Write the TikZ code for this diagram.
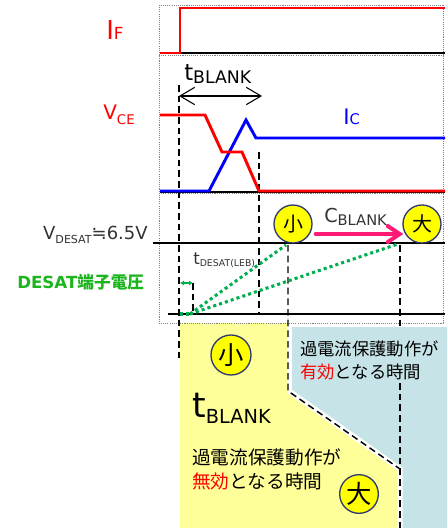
\documentclass[tikz,border=0pt]{standalone}
\usepackage{fontspec}
\setmainfont{DejaVu Sans}
\newfontfamily\jp{Noto Sans CJK JP}
\usetikzlibrary{arrows.meta}
\definecolor{sigred}{HTML}{FF0000}
\definecolor{sigblue}{HTML}{0000FF}
\definecolor{desatgreen}{HTML}{00B050}
\definecolor{labelgreen}{HTML}{1DB51D}
\definecolor{cblankpink}{HTML}{FF1A75}
\definecolor{markyellow}{HTML}{FFFF00}
\definecolor{marknavy}{HTML}{2E3A6E}
\definecolor{zoneyellow}{HTML}{FFFF99}
\definecolor{zoneblue}{HTML}{C6E4E8}
\definecolor{darktext}{HTML}{333333}
\newcommand{\fsz}[2]{\fontsize{#1}{#2}\selectfont}

\begin{document}
\begin{tikzpicture}[
    x=0.75pt, y=-0.75pt,
    frameline/.style={gray, line width=0.7pt, dash pattern=on 0.8pt off 0.8pt},
    axisline/.style={black, line width=2.2pt},
    sigline/.style={line width=2.2pt, line join=miter},
    guideline/.style={black, line width=1.1pt, dash pattern=on 5pt off 3pt},
    greendots/.style={desatgreen, line width=2.3pt, dash pattern=on 2.3pt off 2.3pt},
    ratemark/.style={circle, draw=marknavy, fill=markyellow, line width=1pt, inner sep=0pt},
    lbl/.style={inner sep=0pt, anchor=base west},
    jptext/.style={inner sep=0pt, anchor=base west, align=left, font=\jp\fsz{#1}{1.27\dimexpr#1\relax}}
  ]
    \useasboundingbox (0,0) rectangle (447,528);

    % zones (below)
    \fill[zoneyellow] (180,323) -- (287,323) -- (287,390) -- (398,469) -- (398,528) -- (180,528) -- cycle;
    \fill[zoneblue] (292,327) -- (447,327) -- (447,528) -- (401,528) -- (401,468) -- (292,391) -- cycle;
    \draw[white, line width=4pt] (289,391) -- (400,469) -- (400,528);

    % dotted frame
    \draw[frameline] (159,5) rectangle (443,323);
    \draw[frameline] (159,55) -- (443,55);
    \draw[frameline] (159,193) -- (443,193);

    % guides
    \draw[guideline] (179,85) -- (179,362);
    \draw[guideline] (259,152) -- (259,314);
    \draw[guideline] (193,283) -- (193,314);
    \draw[guideline] (288,245) -- (288,391) -- (400,469);
    \draw[guideline] (400,245) -- (400,326);
    \draw[guideline] (400,383) -- (400,528);

    % I_F
    \draw[axisline] (160,53) -- (445,53);
    \draw[sigline, sigred] (160,53) -- (180,53) -- (180,8) -- (445,8);
    \node[lbl, text=sigred] (IF) at (106,40) {{\fsz{19.5pt}{20pt}I}{\fsz{12.5pt}{14pt}F}};

    % V_CE / I_C
    \draw[axisline] (160,192) -- (445,192);
    \draw[sigline, sigblue] (160,191) -- (209,191) -- (246,120) -- (256,138) -- (445,138);
    \draw[sigline, sigred] (160,115) -- (205,115) -- (222,152) -- (242,152) -- (259,191) -- (445,191);
    \node[lbl, text=sigred] (VCE) at (103,119) {{\fsz{15pt}{16pt}V}\raisebox{-3.75pt}{\fsz{10pt}{11pt}CE}};
    \node[lbl, text=sigblue] (IC) at (343,124) {{\fsz{16pt}{17pt}I}{\fsz{11pt}{12pt}C}};

    % t_BLANK
    \node[lbl] (tblank) at (184,80) {{\fsz{17pt}{18pt}t}\raisebox{-2.25pt}{\fsz{13pt}{14pt}BLANK}};
    \coordinate (blankL) at (179,96);
    \coordinate (blankR) at (262,96);
    \draw[line width=0.8pt, {Straight Barb[length=11pt, width=13pt]}-{Straight Barb[length=11pt, width=13pt]}] (blankL) -- (blankR);

    % DESAT
    \draw[black, line width=1.1pt] (153,243) -- (445,243);
    \draw[axisline] (168,314) -- (445,314);
    \node[lbl, anchor=base east, text=darktext] (vdesat) at (148,239)
      {{\fsz{13.5pt}{14pt}V}\raisebox{-3pt}{\fsz{8.3pt}{9pt}DESAT}{\fsz{13.5pt}{14pt}≒6.5V}};
    \node[lbl, text=darktext] (tleb) at (193,264) {{\fsz{12.5pt}{13pt}t}\raisebox{-1.5pt}{\fsz{7pt}{8pt}DESAT(LEB)}};
    \node[lbl, text=labelgreen] (desatpin) at (17,288) {\bfseries\fsz{12.5pt}{14pt}DESAT{\jp\bfseries 端子電圧}};
    \coordinate (lebL) at (180,283);
    \coordinate (lebR) at (193,283);
    \draw[desatgreen, line width=1.3pt, {Latex[length=3pt, width=4pt]}-{Latex[length=3pt, width=4pt]}] (lebL) -- (lebR);

    \node[ratemark, minimum size=28.5pt, font=\jp\fsz{15pt}{15pt}] (smallC) at (293,224) {小};
    \node[ratemark, minimum size=28.5pt, font=\jp\fsz{15pt}{15pt}] (largeC) at (422,224) {大};
    \coordinate (ramp0) at (190,314);
    \draw[greendots] (180,314) -- (ramp0);
    \draw[greendots] (ramp0) -- ([shift={(-7,21)}]smallC.center);
    \draw[greendots] (ramp0) -- ([shift={(-24,20)}]largeC.center);

    % C_BLANK
    \draw[cblankpink, line width=3pt, line cap=round, -{Straight Barb[length=9pt, width=12pt, line cap=round]}]
      ([shift={(3,10)}]smallC.east) -- ([shift={(1,10)}]largeC.west);
    \node[lbl, text=darktext] (cblank) at (324,222) {{\fsz{14.4pt}{15pt}C}\raisebox{-2.25pt}{\fsz{11pt}{12pt}BLANK}};

    % zones text
    \node[ratemark, minimum size=30pt, font=\jp\fsz{19pt}{19pt}] (smallZ) at (231,355) {小};
    \node[ratemark, minimum size=29pt, font=\jp\fsz{19pt}{19pt}] (largeZ) at (359,494) {大};
    \node[lbl] (tblankZ) at (192,417) {{\fsz{26pt}{27pt}t}\raisebox{-4.5pt}{\fsz{14.5pt}{16pt}BLANK}};
    \node[jptext=14pt] (invalid) at (192,488) {過電流保護動作が\\{\color{sigred}無効}となる時間};
    \node[jptext=13pt] (valid) at (300,378) {過電流保護動作が\\{\color{sigred}有効}となる時間};

  \end{tikzpicture}
\end{document}
